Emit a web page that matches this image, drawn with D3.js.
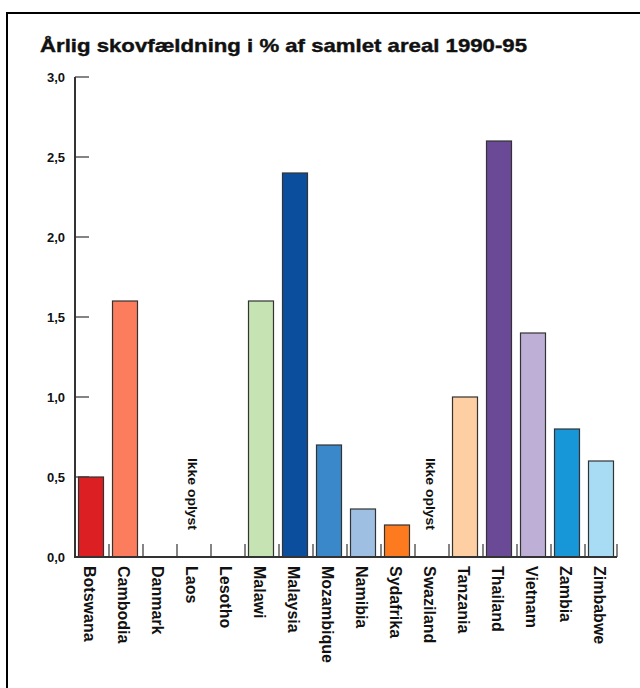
<!DOCTYPE html>
<html><head><meta charset="utf-8">
<script src="https://cdn.jsdelivr.net/npm/d3@7/dist/d3.min.js"></script>
<style>
html,body{margin:0;padding:0;background:#fff;}
text{font-family:"Liberation Sans Narrow","Liberation Sans",Arial,sans-serif;font-weight:bold;fill:#111;}
</style></head>
<body><svg id="c" width="640" height="688"></svg>
<script>
const title = "Årlig skovfældning i % af samlet areal 1990-95";
const categories = ["Botswana","Cambodia","Danmark","Laos","Lesotho","Malawi","Malaysia","Mozambique","Namibia","Sydafrika","Swaziland","Tanzania","Thailand","Vietnam","Zambia","Zimbabwe"];
const values = [0.5, 1.6, 0, null, 0, 1.6, 2.4, 0.7, 0.3, 0.2, null, 1.0, 2.6, 1.4, 0.8, 0.6];
const colors = ["#dc1f22","#fb7d5e","#ffffff","#ffffff","#ffffff","#c5e3b3","#0b4e9e","#3a88c9","#9ebfe2","#fd7b1e","#ffffff","#fdcfa2","#6a4a97","#bdafd5","#1796d8","#a8dbf4"];
const yTicks = [0, 0.5, 1.0, 1.5, 2.0, 2.5, 3.0];
const yTickLabels = ["0,0","0,5","1,0","1,5","2,0","2,5","3,0"];
const missingLabel = "Ikke oplyst";

const svg = d3.select("#c");
// outer frame
svg.append("path").attr("d","M7,688 V13 H640").attr("fill","none").attr("stroke","#000").attr("stroke-width",2);

svg.append("text").attr("x",40).attr("y",52).attr("font-size",19).attr("textLength",487).attr("lengthAdjust","spacingAndGlyphs").attr("stroke","#111").attr("stroke-width",0.4).text(title);

const x = d3.scaleBand().domain(categories).range([75,619]).padding(0);
const y = d3.scaleLinear().domain([0,3]).range([557,77]);

// y axis
svg.append("line").attr("x1",75).attr("x2",75).attr("y1",y(3)).attr("y2",y(0)).attr("stroke","#333").attr("stroke-width",2);
const yt = svg.append("g");
yTicks.forEach((t,i)=>{
  if(i>0) yt.append("line").attr("x1",75).attr("x2",89).attr("y1",y(t)).attr("y2",y(t)).attr("stroke","#333").attr("stroke-width",1.2);
  yt.append("text").attr("x",65).attr("y",y(t)).attr("dy","0.35em").attr("text-anchor","end").attr("font-size",13).text(yTickLabels[i]);
});

// bars
const bw = 25;
categories.forEach((c,i)=>{
  const v = values[i];
  const bx = x(c)+3.5;
  if(v!==null && v>0){
    svg.append("rect").attr("x",bx).attr("y",y(v)).attr("width",bw).attr("height",y(0)-y(v))
      .attr("fill",colors[i]).attr("stroke","#333").attr("stroke-width",1.2);
  }
  if(v===null){
    svg.append("text").attr("transform",`translate(${bx+bw/2-1},458) rotate(90)`).attr("dy","0.35em")
      .attr("font-size",12).attr("textLength",72).attr("lengthAdjust","spacingAndGlyphs").text(missingLabel);
  }
  svg.append("text").attr("transform",`translate(${bx+bw/2-1},566) rotate(90)`).attr("dy","0.35em")
    .attr("font-size",16).text(c);
  if(i>0) svg.append("line").attr("x1",x(c)).attr("x2",x(c)).attr("y1",557).attr("y2",544).attr("stroke","#333").attr("stroke-width",1.2);
});
svg.append("line").attr("x1",x(categories[15])+x.bandwidth()-2).attr("x2",x(categories[15])+x.bandwidth()-2).attr("y1",557).attr("y2",544).attr("stroke","#333").attr("stroke-width",1.2);
// baseline
svg.append("line").attr("x1",74).attr("x2",617).attr("y1",557).attr("y2",557).attr("stroke","#333").attr("stroke-width",2);
</script></body></html>
